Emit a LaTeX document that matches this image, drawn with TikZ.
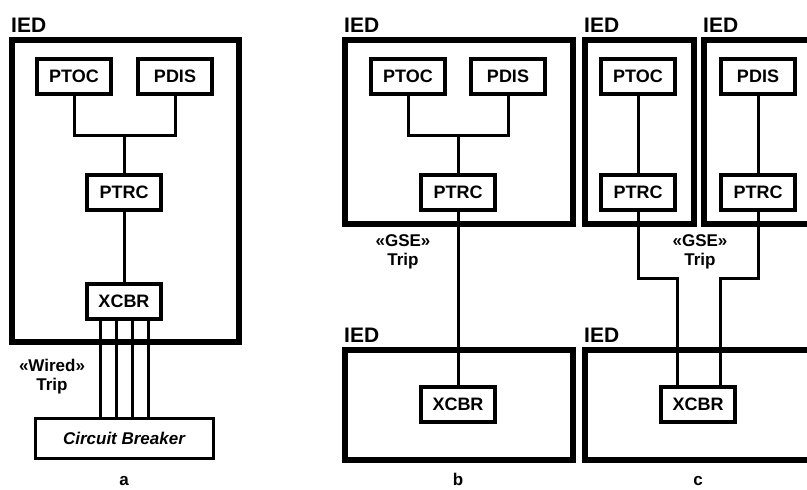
\documentclass[tikz,border=0pt]{standalone}
\usepackage{fontspec}
\setmainfont{Liberation Sans}
\usetikzlibrary{positioning}

\tikzset{
  ln/.style={draw, line width=4pt, minimum width=74pt, minimum height=35pt,
    inner sep=0pt, font=\fontsize{18}{20}\selectfont\bfseries},
  iedbox/.style={line width=5.5pt},
  wire/.style={line width=3pt},
  iedlabel/.style={anchor=base west, inner sep=0pt, font=\fontsize{21}{22}\selectfont\bfseries},
  trip/.style={align=center, inner sep=0pt, font=\fontsize{17}{19}\selectfont\bfseries},
  caption/.style={anchor=base, inner sep=0pt, font=\fontsize{17}{18}\selectfont\bfseries}
}

\begin{document}
\begin{tikzpicture}[x=1pt,y=-1pt]

\clip (0,0) rectangle (807,490);

% a : wired trip
\draw[iedbox] (12,40) rectangle (239,342);
\node[iedlabel] (iedA) at (11,32) {IED};

\node[ln] (ptocA) at (74,76) {PTOC};
\node[ln] (pdisA) at (175,76) {PDIS};
\node[ln] (ptrcA) at (124,192) {PTRC};
\node[ln] (xcbrA) at (124,301) {XCBR};

\node[draw, line width=3pt, minimum width=178pt, minimum height=40pt,
  font=\fontsize{17}{18}\selectfont\bfseries\itshape] (cbA) at (124,438) {Circuit Breaker};

\coordinate (jA) at (124,135);
\draw[wire] (ptocA.south) |- (jA) -| (pdisA.south);
\draw[wire] (jA) -- (ptrcA.north);
\draw[wire] (ptrcA.south) -- (xcbrA.north);

\foreach \d in {-24,-8,8,24}
{
    \draw[wire] ([xshift=\d pt]xcbrA.south) -- ([xshift=\d pt]cbA.north);
}

\node[trip] (tripA) at (52,377) {«Wired»\\Trip};

\node[caption] (capA) at (124,485) {a};

% b : GSE trip, one IED
\draw[iedbox] (345,40) rectangle (573,224);
\node[iedlabel] (iedB) at (344,32) {IED};

\node[ln] (ptocB) at (408,76) {PTOC};
\node[ln] (pdisB) at (508,76) {PDIS};
\node[ln] (ptrcB) at (458,192) {PTRC};

\coordinate (jB) at (458,135);
\draw[wire] (ptocB.south) |- (jB) -| (pdisB.south);
\draw[wire] (jB) -- (ptrcB.north);

\draw[iedbox] (345,350) rectangle (573,460);
\node[iedlabel] (iedB2) at (344,342) {IED};
\node[ln] (xcbrB) at (458,404) {XCBR};

\draw[wire] (ptrcB.south) -- (xcbrB.north);

\node[trip] (tripB) at (403,252) {«GSE»\\Trip};

\node[caption] (capB) at (458,485) {b};

% c : GSE trip, two IEDs
\draw[iedbox] (585,40) rectangle (694,224);
\node[iedlabel] (iedC1) at (584,32) {IED};
\draw[iedbox] (704,40) rectangle (830,224);
\node[iedlabel] (iedC2) at (703,32) {IED};

\node[ln] (ptocC) at (638,76) {PTOC};
\node[ln] (ptrcC1) at (638,192) {PTRC};
\node[ln] (pdisC) at (758,76) {PDIS};
\node[ln] (ptrcC2) at (758,192) {PTRC};

\draw[wire] (ptocC.south) -- (ptrcC1.north);
\draw[wire] (pdisC.south) -- (ptrcC2.north);

\draw[iedbox] (585,350) rectangle (830,460);
\node[iedlabel] (iedC3) at (584,342) {IED};
\node[ln] (xcbrC) at (698,404) {XCBR};

\coordinate (kL) at (677,278);
\coordinate (kR) at (720,278);
\draw[wire] (ptrcC1.south) |- (kL) -- (kL |- xcbrC.north);
\draw[wire] (ptrcC2.south) |- (kR) -- (kR |- xcbrC.north);

\node[trip] (tripC) at (700,252) {«GSE»\\Trip};

\node[caption] (capC) at (698,485) {c};

\end{tikzpicture}
\end{document}
